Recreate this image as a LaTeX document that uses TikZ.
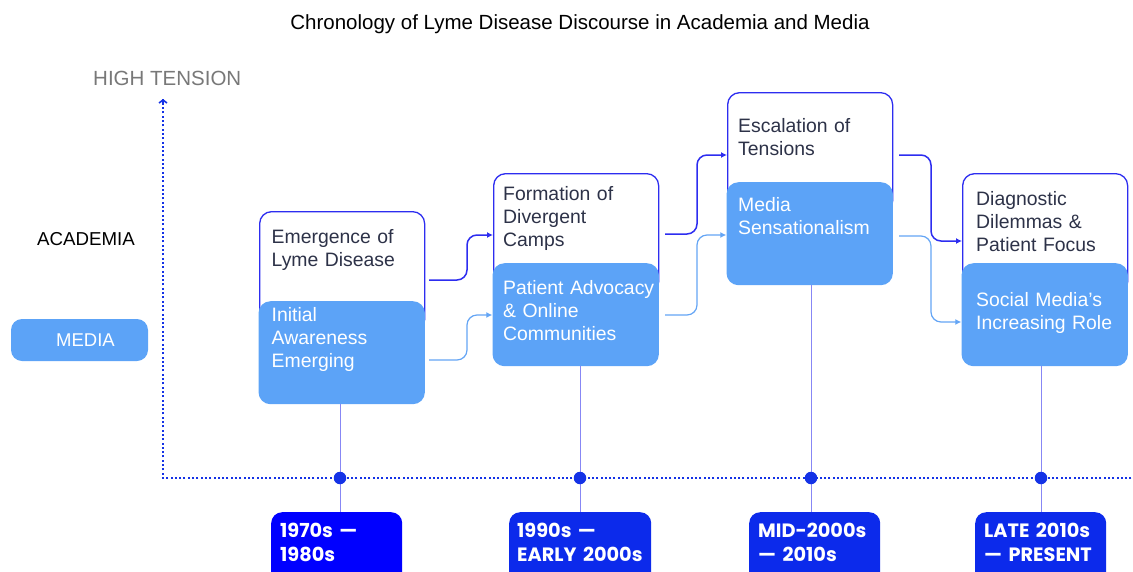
\documentclass[tikz,border=0pt]{standalone}
\usepackage{fontspec}
\setmainfont{Liberation Sans}
\newfontfamily\datefont{Poppins}
\usetikzlibrary{arrows.meta}
\definecolor{acadline}{RGB}{45,45,240}
\definecolor{mediafill}{RGB}{92,163,247}
\definecolor{datefillA}{RGB}{0,0,255}
\definecolor{datefill}{RGB}{12,42,235}
\definecolor{axisblue}{RGB}{20,50,230}
\definecolor{stemline}{RGB}{135,135,245}
\definecolor{darktext}{RGB}{45,50,72}
\definecolor{graytext}{RGB}{120,120,120}
\definecolor{mediaconn}{RGB}{100,165,245}
\begin{document}
\begin{tikzpicture}[x=1pt,y=-1pt,
  acadbox/.style={draw=acadline, line width=1.3pt, fill=white, rounded corners=12pt,
    minimum width=165pt, minimum height=120pt, anchor=north west, inner sep=0pt},
  mediabox/.style={fill=mediafill, rounded corners=12pt,
    minimum width=166.4pt, minimum height=103pt, anchor=north west, inner sep=0pt},
  datebox/.style={rounded corners=11pt, minimum width=131pt, minimum height=75pt,
    anchor=north west, inner sep=0pt},
  boxtext/.style={anchor=base west, inner sep=0pt, text width=160pt, align=left,
    font=\fontsize{19.4}{23}\selectfont},
  acadtext/.style={boxtext, text=darktext},
  mediatext/.style={boxtext, text=white},
  datetext/.style={anchor=base west, inner sep=0pt, text width=130pt, align=left,
    text=white, font=\datefont\bfseries\fontsize{19.3}{24}\selectfont},
  axis/.style={draw=axisblue, line width=2.2pt, dash pattern=on 2pt off 2.3pt},
  acadconn/.style={draw=acadline, line width=1.5pt, rounded corners=10pt,
    -{Latex[length=6pt,width=6pt]}},
  mediaconn/.style={draw=mediaconn, line width=1.2pt, rounded corners=10pt,
    -{Latex[length=6pt,width=6pt]}},
  stem/.style={draw=stemline, line width=1pt},
  dot/.style={circle, fill=axisblue, minimum size=12.5pt, inner sep=0pt}
]
\useasboundingbox (0,0) rectangle (1133,571);

% title and side labels
\node[anchor=base, inner sep=0pt, font=\fontsize{20.5}{24}\selectfont] (title) at (580,29)
  {Chronology of Lyme Disease Discourse in Academia and Media};
\node[anchor=base west, inner sep=0pt, text=graytext, font=\fontsize{20.5}{24}\selectfont] (high) at (93,85) {HIGH TENSION};
\node[anchor=base west, inner sep=0pt, font=\fontsize{18.7}{22}\selectfont] (acadlab) at (37,245) {ACADEMIA};
\node[fill=mediafill, rounded corners=11pt, minimum width=137pt, minimum height=42pt,
  inner sep=0pt, text=white, font=\fontsize{18.5}{22}\selectfont] (medialab) at (79.5,340) {\hspace*{12pt}MEDIA};

% axes
\coordinate (ytop) at (163,99);
\coordinate (origin) at (163,478);
\coordinate (xend) at (1140,478);
\draw[axis] (xend) -- (origin) -- (ytop);
\draw[draw=axisblue, line width=1.6pt, {Straight Barb[length=3pt,width=8pt]}-] (ytop) -- ++(0,4);

% positions of the dots on the time axis
\coordinate (p1) at (340,478);
\coordinate (p2) at (580,478);
\coordinate (p3) at (811,478);
\coordinate (p4) at (1041,478);

% academia boxes
\node[acadbox] (a1) at (259,211) {};
\node[acadbox] (a2) at (493,173) {};
\node[acadbox] (a3) at (727,92) {};
\node[acadbox] (a4) at (962,173) {};

% media boxes
\node[mediabox] (m1) at (258.3,301) {};
\node[mediabox] (m2) at (492.3,263) {};
\node[mediabox] (m3) at (726.3,182) {};
\node[mediabox] (m4) at (961.3,263) {};

% texts
\node[acadtext] (a1t) at (271.5,243) {Emergence of\\Lyme Disease};
\node[mediatext] (m1t) at (271.5,321) {Initial\\Awareness\\Emerging};
\node[acadtext] (a2t) at (503,200) {Formation of\\Divergent\\Camps};
\node[mediatext] (m2t) at (503,294) {Patient Advocacy\\\& Online\\Communities};
\node[acadtext] (a3t) at (738,132) {Escalation of\\Tensions};
\node[mediatext] (m3t) at (738,211) {Media\\Sensationalism};
\node[acadtext] (a4t) at (976,205) {Diagnostic\\Dilemmas \&\\Patient Focus};
\node[mediatext] (m4t) at (976,306) {Social Media’s\\Increasing Role};

% connector end points
\coordinate (a1s) at (429,280);  \coordinate (a2e) at (a2.west |- 0,235);
\coordinate (m1s) at (429,360);  \coordinate (m2e) at (m2.west |- 0,315);
\coordinate (a2s) at (665,234);  \coordinate (a3e) at (a3.west |- 0,155);
\coordinate (m2s) at (665,315);  \coordinate (m3e) at (m3.west |- 0,235);
\coordinate (a3s) at (899,155);  \coordinate (a4e) at (a4.west |- 0,241);
\coordinate (m3s) at (899,236);  \coordinate (m4e) at (m4.west |- 0,322);

\draw[acadconn] (a1s) -- ++(38,0) |- (a2e);
\draw[mediaconn] (m1s) -- ++(38,0) |- (m2e);
\draw[acadconn] (a2s) -- ++(32,0) |- (a3e);
\draw[mediaconn] (m2s) -- ++(32,0) |- (m3e);
\draw[acadconn] (a3s) -- ++(32,0) |- (a4e);
\draw[mediaconn] (m3s) -- ++(32,0) |- (m4e);

% date boxes
\node[datebox, fill=datefillA] (t1) at (271,512) {};
\node[datebox, fill=datefill, minimum width=142pt] (t2) at (509,512) {};
\node[datebox, fill=datefill] (t3) at (749,512) {};
\node[datebox, fill=datefill] (t4) at (975,512) {};

% stems
\draw[stem] (m1.south -| p1) -- (t1.north -| p1);
\draw[stem] (m2.south -| p2) -- (t2.north -| p2);
\draw[stem] (m3.south -| p3) -- (t3.north -| p3);
\draw[stem] (m4.south -| p4) -- (t4.north -| p4);

% dots
\node[dot] (d1) at (p1) {};
\node[dot] (d2) at (p2) {};
\node[dot] (d3) at (p3) {};
\node[dot] (d4) at (p4) {};

\node[datetext] (t1t) at (280,537) {1970s —\\1980s};
\node[datetext] (t2t) at (517,537) {1990s —\\EARLY 2000s};
\node[datetext] (t3t) at (758,537) {MID-2000s\\— 2010s};
\node[datetext] (t4t) at (984,537) {LATE 2010s\\— PRESENT};
\end{tikzpicture}
\end{document}
